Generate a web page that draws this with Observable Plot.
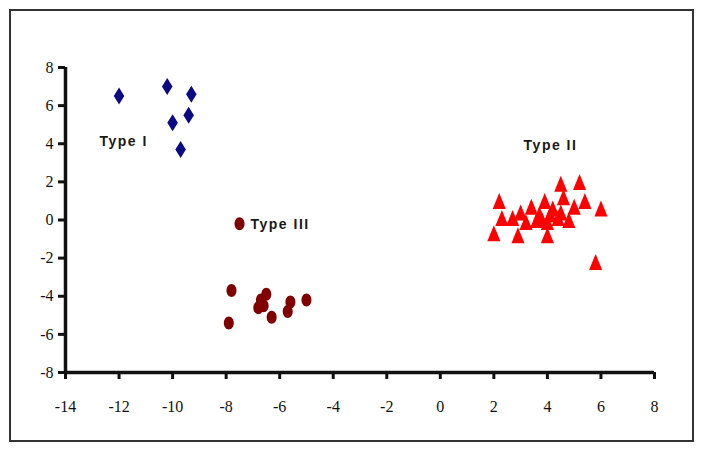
<!DOCTYPE html>
<html><head><meta charset="utf-8">
<script src="https://cdn.jsdelivr.net/npm/d3@7"></script>
<script src="https://cdn.jsdelivr.net/npm/@observablehq/plot@0.6"></script>
<style>
body{margin:0;background:#fff;}
#wrap{position:relative;width:703px;height:454px;}
#border{position:absolute;left:9px;top:9px;width:681px;height:429px;border:2px solid #333;pointer-events:none;}
g[aria-label="text"] text{letter-spacing:1.5px;}
</style></head><body><div id="wrap"><div id="border"></div></div>
<script>
// Type I (diamonds)
const typeIX = [-12.0, -10.2, -9.3, -9.4, -10.0, -9.7];
const typeIY = [6.5, 7.0, 6.6, 5.5, 5.1, 3.7];
// Type II (triangles)
const typeIIX = [2.2, 2.3, 2.0, 2.7, 3.0, 2.9, 3.4, 3.7, 3.9, 4.0, 3.8, 4.5, 5.2, 4.6, 5.4, 6.0, 5.0, 4.2, 4.5, 4.0, 4.8, 4.4, 5.8, 3.2, 4.1, 3.6];
const typeIIY = [1.0, 0.1, -0.7, 0.1, 0.4, -0.8, 0.7, 0.3, 1.0, -0.8, 0.0, 1.9, 2.0, 1.2, 1.0, 0.6, 0.7, 0.6, 0.4, -0.1, 0.0, 0.1, -2.2, -0.1, 0.3, 0.0];
// Type III (circles)
const typeIIIX = [-7.5, -7.8, -7.9, -6.5, -6.7, -6.8, -6.6, -6.3, -5.6, -5.7, -5.0];
const typeIIIY = [-0.2, -3.7, -5.4, -3.9, -4.2, -4.6, -4.5, -5.1, -4.3, -4.8, -4.2];
// Labels
const labelText = ["Type I", "Type II", "Type III"];
const labelX = [-12.73, 3.11, -7.09];
const labelY = [4.12, 3.91, -0.24];
// Tick labels
const xTicks = [-14, -12, -10, -8, -6, -4, -2, 0, 2, 4, 6, 8];
const yTicks = [-8, -6, -4, -2, 0, 2, 4, 6, 8];

const pts = (xs, ys) => xs.map((x, i) => ({x, y: ys[i]}));
const dI = pts(typeIX, typeIY), dII = pts(typeIIX, typeIIY), dIII = pts(typeIIIX, typeIIIY);
const labels = labelText.map((t, i) => ({t, x: labelX[i], y: labelY[i]}));

const diamond = {draw(c, size) {const r = Math.sqrt(size / Math.PI); c.moveTo(0, -r); c.lineTo(0.62 * r, 0); c.lineTo(0, r); c.lineTo(-0.62 * r, 0); c.closePath();}};
const tri = {draw(c, size) {const r = Math.sqrt(size / Math.PI); c.moveTo(0, -r); c.lineTo(0.82 * r, r); c.lineTo(-0.82 * r, r); c.closePath();}};
const ellipse = {draw(c, size) {
  const r = Math.sqrt(size / Math.PI), rx = 0.77 * r, ry = r, k = 0.5523;
  c.moveTo(rx, 0);
  c.bezierCurveTo(rx, k * ry, k * rx, ry, 0, ry);
  c.bezierCurveTo(-k * rx, ry, -rx, k * ry, -rx, 0);
  c.bezierCurveTo(-rx, -k * ry, -k * rx, -ry, 0, -ry);
  c.bezierCurveTo(k * rx, -ry, rx, -k * ry, rx, 0);
  c.closePath();
}};

const axisFont = {fontFamily: "Liberation Serif", fontSize: 16, fill: "#111"};
const chart = Plot.plot({
  width: 703, height: 454,
  marginLeft: 65, marginRight: 49, marginTop: 67, marginBottom: 82,
  style: {fontFamily: "'Liberation Serif'", fontSize: "16px", background: "transparent", color: "#111"},
  x: {domain: [-14, 8]},
  y: {domain: [-8, 8]},
  marks: [
    Plot.axisX({ticks: xTicks, tickSize: 7, tickPadding: 21, strokeWidth: 3, label: null, tickFormat: d => String(d), ...axisFont}),
    Plot.axisY({ticks: yTicks, tickSize: 7, tickPadding: 5, strokeWidth: 3, label: null, tickFormat: d => String(d), ...axisFont}),
    Plot.ruleY([-8], {strokeWidth: 3.5}),
    Plot.ruleX([-14], {strokeWidth: 3.5}),
    Plot.dot(dI, {x: "x", y: "y", r: 8.5, symbol: diamond, fill: "#0a0a82", stroke: "none"}),
    Plot.dot(dII, {x: "x", y: "y", r: 8, symbol: tri, fill: "#ff0000", stroke: "none"}),
    Plot.dot(dIII, {x: "x", y: "y", r: 6.5, symbol: ellipse, fill: "#800000", stroke: "none"}),
    Plot.text(labels, {x: "x", y: "y", text: "t", textAnchor: "start", fontFamily: "Liberation Sans", fontWeight: "bold", fontSize: 14, fill: "#1a1a1a"})
  ]
});
document.getElementById("wrap").prepend(chart);
</script>
</body></html>
